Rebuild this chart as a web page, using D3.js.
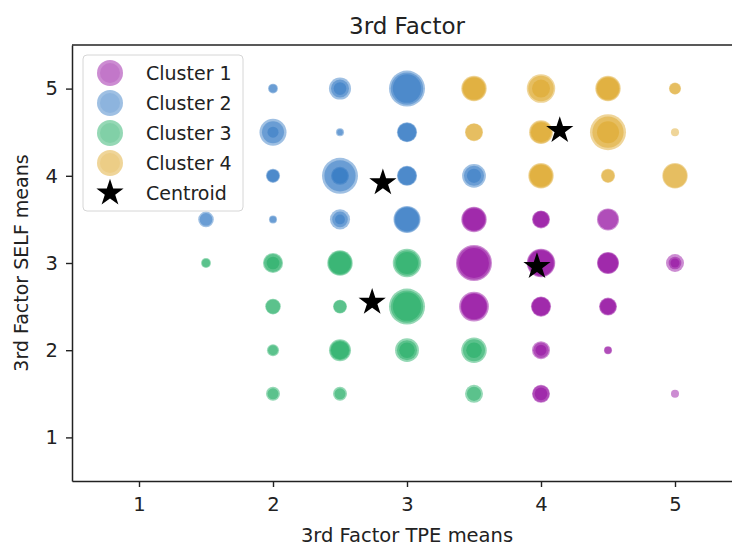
<!DOCTYPE html>
<html>
<head>
<meta charset="utf-8">
<script src="https://cdn.jsdelivr.net/npm/d3@7"></script>
<style>
  body { margin: 0; background: #fff; }
  svg { display: block; font-family: "DejaVu Sans", sans-serif; }
</style>
</head>
<body>
<div id="chart-container"></div>
<script>
// Cluster names and colours
const clusterNames = ["Cluster 1", "Cluster 2", "Cluster 3", "Cluster 4"];
const clusterColors = ["#8e009c", "#2a74c0", "#14a85a", "#dca21c"];

// Each point: [TPE mean, SELF mean, [stacked marker sizes]]
const cluster1 = [
    [3.5, 3.5, [8, 7, 6]], [4, 3.5, [4, 3.5, 3]], [4.5, 3.5, [6, 5]],
    [3.5, 3, [16, 14, 11]], [4, 3, [10, 9, 8]], [4.5, 3, [6, 5.5, 5]], [5, 3, [4, 2, 1]],
    [3.5, 2.5, [11, 9, 8]], [4, 2.5, [5, 4.5, 4]], [4.5, 2.5, [4, 3.5, 3]],
    [4, 2, [4, 3, 1.5]], [4.5, 2, [0.8, 0.6]],
    [4, 1.5, [4, 3.5, 2]], [5, 1.5, [0.8]]
];
const cluster2 = [
    [2, 5, [1.2, 0.8]], [2.5, 5, [6, 4, 2]], [3, 5, [16, 13, 10]],
    [2, 4.5, [9, 6, 1.5]], [2.5, 4.5, [0.8, 0.4]], [3, 4.5, [5, 4.5, 4]],
    [2, 4, [2.5, 2, 1.8]], [2.5, 4, [16, 12, 4, 3]], [3, 4, [5, 4.5, 4]], [3.5, 4, [7, 5, 2.5]],
    [1.5, 3.5, [3, 2]], [2, 3.5, [0.8, 0.5]], [2.5, 3.5, [5, 3, 1.2]], [3, 3.5, [9, 8, 7]]
];
const cluster3 = [
    [1.5, 3, [1.2, 0.8]], [2, 3, [5, 4, 2]], [2.5, 3, [8, 7, 6]], [3, 3, [10, 8, 6]],
    [2, 2.5, [3, 2.5]], [2.5, 2.5, [2.4, 2]], [3, 2.5, [16, 13, 10]],
    [2, 2, [1.8, 1.2]], [2.5, 2, [6, 5, 4]], [3, 2, [7, 5, 3]], [3.5, 2, [8, 6, 3]],
    [2, 1.5, [2.4, 1.5]], [2.5, 1.5, [2.4, 1.5]], [3.5, 1.5, [4, 2.5]]
];
const cluster4 = [
    [3.5, 5, [8, 7, 6]], [4, 5, [10, 8, 4]], [4.5, 5, [8, 7, 6]], [5, 5, [1.8, 1.5]],
    [3.5, 4.5, [4, 3.5]], [4, 4.5, [7, 6, 5]], [4.5, 4.5, [16, 12, 6]], [5, 4.5, [0.8]],
    [4, 4, [8, 7, 6]], [4.5, 4, [2.5, 2]], [5, 4, [8, 7]]
];
const clusters = [cluster1, cluster2, cluster3, cluster4];

// Centroids (TPE, SELF)
const centroids = [[3.97, 2.96], [2.82, 3.92], [2.74, 2.55], [4.14, 4.52]];

const xTicks = [1, 2, 3, 4, 5];
const yTicks = [1, 2, 3, 4, 5];

function drawClusterChart() {
    const margin = { top: 45, right: 0, bottom: 65, left: 72 },
        width = 670,
        height = 436;

    const svg = d3.select("#chart-container")
        .append("svg")
        .attr("width", 732)
        .attr("height", 546);

    const g = svg.append("g")
        .attr("transform", "translate(" + margin.left + "," + margin.top + ")");

    const x = d3.scaleLinear().domain([0.5, 5.5]).range([0, width]);
    const y = d3.scaleLinear().domain([0.5, 5.5]).range([height, 0]);
    const r = d3.scaleSqrt().domain([0, 16]).range([0, 18]);
    const star = d3.symbol().type(d3.symbolStar).size(230);

    // Points, layer by layer
    clusters.forEach((pts, ci) => {
        const layers = [];
        pts.forEach(p => p[2].forEach(s => layers.push({ x: p[0], y: p[1], s: s })));
        g.append("g").selectAll("circle")
            .data(layers)
            .enter().append("circle")
            .attr("cx", d => x(d.x))
            .attr("cy", d => y(d.y))
            .attr("r", d => r(d.s))
            .attr("fill", clusterColors[ci])
            .attr("fill-opacity", 0.45);
    });

    // Centroids
    g.selectAll(".centroid")
        .data(centroids)
        .enter().append("path")
        .attr("class", "centroid")
        .attr("transform", d => "translate(" + x(d[0]) + "," + y(d[1]) + ")")
        .attr("d", star)
        .attr("fill", "#000");

    // Axes
    const xAxis = g.append("g")
        .attr("transform", "translate(0," + height + ")")
        .call(d3.axisBottom(x).tickValues(xTicks).tickFormat(d3.format("d"))
            .tickSize(6).tickPadding(10).tickSizeOuter(0));
    const yAxis = g.append("g")
        .call(d3.axisLeft(y).tickValues(yTicks).tickFormat(d3.format("d"))
            .tickSize(6).tickPadding(8).tickSizeOuter(0));
    [xAxis, yAxis].forEach(a => {
        a.selectAll("text").attr("font-size", 19.5).attr("fill", "#222").attr("font-family", "DejaVu Sans");
        a.selectAll("line").attr("stroke", "#222").attr("stroke-width", 1.4);
        a.select(".domain").attr("stroke", "#222").attr("stroke-width", 1.5);
    });

    // Top spine
    g.append("line")
        .attr("x1", 0).attr("x2", width)
        .attr("y1", 0).attr("y2", 0)
        .attr("stroke", "#222").attr("stroke-width", 1.5);

    // Title and axis labels
    svg.append("text")
        .attr("x", margin.left + x(3)).attr("y", 34)
        .attr("text-anchor", "middle")
        .attr("font-size", 23).attr("fill", "#222")
        .text("3rd Factor");
    svg.append("text")
        .attr("x", margin.left + x(3)).attr("y", 542)
        .attr("text-anchor", "middle")
        .attr("font-size", 19.5).attr("fill", "#222")
        .text("3rd Factor TPE means");
    svg.append("text")
        .attr("transform", "translate(28," + (margin.top + y(3)) + ")rotate(-90)")
        .attr("text-anchor", "middle")
        .attr("font-size", 19).attr("fill", "#222")
        .text("3rd Factor SELF means");

    // Legend
    const legend = svg.append("g").attr("transform", "translate(83,55)");
    legend.append("rect")
        .attr("width", 160).attr("height", 156)
        .attr("rx", 4)
        .attr("fill", "#fff").attr("fill-opacity", 0.8)
        .attr("stroke", "#d6d6d6");
    const items = clusterNames.concat(["Centroid"]);
    const row = legend.selectAll(".item")
        .data(items)
        .enter().append("g")
        .attr("transform", (d, i) => "translate(27," + (18 + i * 30) + ")");
    row.each(function (d, i) {
        const el = d3.select(this);
        if (i < 4) {
            el.append("circle").attr("r", 13).attr("fill", clusterColors[i]).attr("fill-opacity", 0.45);
            el.append("circle").attr("r", 10).attr("fill", clusterColors[i]).attr("fill-opacity", 0.15);
        } else {
            el.append("path").attr("d", star).attr("fill", "#000");
        }
    });
    row.append("text")
        .attr("x", 36).attr("dy", "0.35em")
        .attr("font-size", 19).attr("fill", "#222")
        .text(d => d);
}

drawClusterChart();
</script>
</body>
</html>
